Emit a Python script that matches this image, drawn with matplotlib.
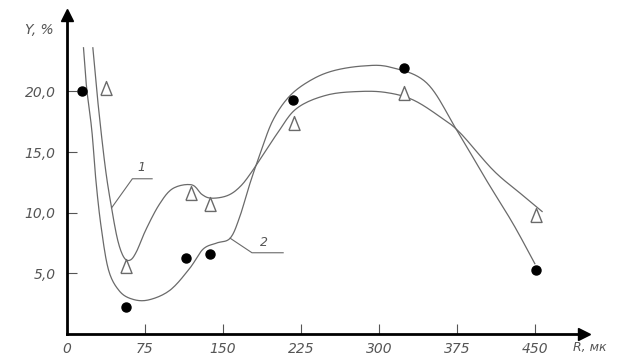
import numpy as np
import matplotlib
matplotlib.use("Agg")
import matplotlib.pyplot as plt

# точки серии 1 (треугольники) и серии 2 (кружки)
r_tri = [38, 57, 119, 138, 218, 324, 451]
y_tri = [20.3, 5.6, 11.6, 10.7, 17.4, 19.9, 9.8]
r_dot = [15, 57, 115, 138, 217, 324, 451]
y_dot = [20.0, 2.2, 6.3, 6.6, 19.3, 21.9, 5.3]

# кривая 1
curve1_r = [25, 30, 37, 43, 49, 55, 61, 67, 76, 89, 102, 120, 130, 139, 154,
            166, 178, 202, 221, 250, 282, 308, 333, 359, 378, 410, 436, 457]
curve1_y = [23.6, 19.0, 13.7, 10.4, 7.7, 6.3, 6.1, 6.8, 8.6, 10.7, 12.0, 12.3,
            11.5, 11.2, 11.4, 12.1, 13.4, 16.5, 18.6, 19.7, 20.0, 19.9, 19.3,
            17.9, 16.6, 13.5, 11.6, 10.1]

# кривая 2
curve2_r = [16, 19, 24, 28, 33, 40, 50, 62, 78, 99, 118, 131, 144, 157, 166,
            176, 186, 198, 214, 234, 256, 285, 311, 346, 375, 404, 429, 450]
curve2_y = [23.6, 20.3, 16.8, 12.6, 8.8, 5.3, 3.6, 2.9, 2.8, 3.6, 5.4, 7.0,
            7.5, 7.9, 9.6, 12.4, 14.9, 17.6, 19.6, 20.9, 21.7, 22.1, 22.0,
            20.7, 16.8, 12.6, 9.1, 5.8]

x_ticks = [0, 75, 150, 225, 300, 375, 450]
y_ticks = [5.0, 10.0, 15.0, 20.0]
y_tick_labels = ['5,0', '10,0', '15,0', '20,0']


def smooth(xs, ys, n=12):
    # сглаживание ломаной (Catmull-Rom) только для отрисовки
    p = np.column_stack([xs, ys]).astype(float)
    p = np.vstack([p[0], p, p[-1]])
    out = []
    t = np.linspace(0, 1, n, endpoint=False)[:, None]
    for i in range(1, len(p) - 2):
        p0, p1, p2, p3 = p[i - 1], p[i], p[i + 1], p[i + 2]
        seg = 0.5 * (2 * p1 + (-p0 + p2) * t + (2 * p0 - 5 * p1 + 4 * p2 - p3) * t ** 2
                     + (-p0 + 3 * p1 - 3 * p2 + p3) * t ** 3)
        out.append(seg)
    out.append(p[-2][None, :])
    out = np.vstack(out)
    return out[:, 0], out[:, 1]


txt = dict(color='#555555', style='italic', family='DejaVu Sans')
gray = '#6a6a6a'
tri = [(-0.8, -1), (0.8, -1), (0, 1), (-0.8, -1)]

fig = plt.figure(figsize=(6.19, 3.58), dpi=100)
ax = fig.add_axes([0.108, 0.067, 0.835, 0.891])

ax.plot(*smooth(curve1_r, curve1_y), color=gray, lw=0.9)
ax.plot(*smooth(curve2_r, curve2_y), color=gray, lw=0.9)
ax.plot(r_tri, y_tri, linestyle='none', marker=tri, ms=10,
        mfc='white', mec=gray, mew=1.0)
ax.plot(r_dot, y_dot, linestyle='none', marker='o', ms=6.5,
        mfc='black', mec='black')

# выноски с номерами кривых
ax.plot([43, 63, 82], [10.4, 12.8, 12.8], color=gray, lw=0.8)
ax.text(72, 13.2, '1', fontsize=9, ha='center', va='bottom', **txt)
ax.plot([157, 178, 208], [7.9, 6.7, 6.7], color=gray, lw=0.8)
ax.text(190, 7.0, '2', fontsize=9, ha='center', va='bottom', **txt)

ax.set_xlim(0, 497)
ax.set_ylim(0, 26.3)
for s in ['top', 'right']:
    ax.spines[s].set_visible(False)
for s in ['left', 'bottom']:
    ax.spines[s].set_linewidth(2)

# стрелки на концах осей
ax.plot(1, 0, '>k', ms=8, transform=ax.get_yaxis_transform(), clip_on=False)
ax.plot(0, 1, '^k', ms=8, transform=ax.get_xaxis_transform(), clip_on=False)

ax.set_xticks(x_ticks)
ax.set_xticklabels([str(v) for v in x_ticks], fontsize=10, **txt)
ax.set_yticks(y_ticks)
ax.set_yticklabels(y_tick_labels, fontsize=10, **txt)
ax.tick_params(direction='in', length=7, width=0.8, colors='#555555', pad=8)
ax.tick_params(axis='x', pad=6)

fig.text(0.04, 0.905, 'Y, %', fontsize=10, **txt)
fig.text(0.925, 0.02, 'R, мк', fontsize=9, **txt)

fig.savefig('out.png', dpi=100)
